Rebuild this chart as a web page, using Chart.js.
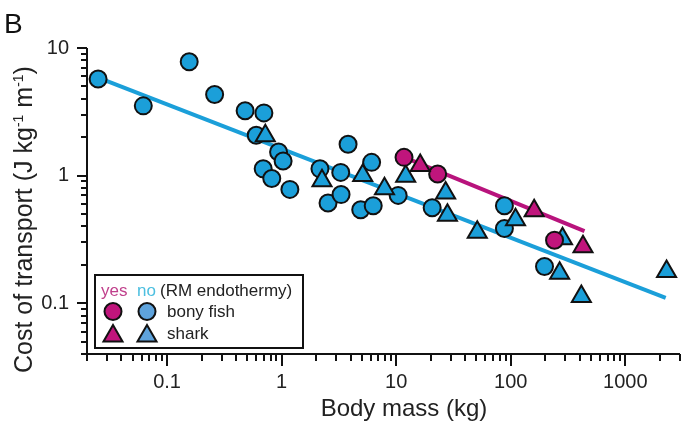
<!DOCTYPE html>
<html lang="en">
<head>
<meta charset="UTF-8">
<title>Cost of transport vs body mass</title>
<script src="https://cdn.jsdelivr.net/npm/chart.js"></script>
<style>
    body { margin: 0; background: #fff; }
    #wrap { position: relative; width: 687px; height: 428px; }
</style>
</head>
<body>
<div id="wrap"><canvas id="cotChart"></canvas></div>
<script>
// bony fish, no RM endothermy
const fishNoMass = [0.025, 0.062, 0.156, 0.26, 0.48, 0.70, 0.60, 0.69, 0.82, 0.94, 1.03, 1.18,
                    2.16, 2.54, 3.3, 3.8, 3.28, 6.1, 4.9, 6.3, 10.4, 20.6, 88, 88, 197];
const fishNoCot = [5.71, 3.52, 7.81, 4.32, 3.22, 3.10, 2.07, 1.13, 0.95, 1.53, 1.30, 0.78,
                   1.13, 0.61, 0.71, 1.76, 1.06, 1.27, 0.54, 0.58, 0.70, 0.56, 0.58, 0.385, 0.194];
// sharks, no RM endothermy
const sharkNoMass = [0.72, 2.25, 5.1, 7.9, 12.1, 27, 28, 51, 110, 283, 267, 413, 2290];
const sharkNoCot = [2.05, 0.91, 1.0, 0.79, 0.99, 0.73, 0.49, 0.36, 0.45, 0.32, 0.172, 0.113, 0.177];
// RM endothermy
const fishYesMass = [11.7, 23.0, 241];
const fishYesCot = [1.39, 1.03, 0.312];
const sharkYesMass = [16.2, 160, 427];
const sharkYesCot = [1.20, 0.531, 0.277];
// fitted lines
const fitNoMass = [0.025, 2250];
const fitNoCot = [5.87, 0.110];
const fitYesMass = [11.5, 440];
const fitYesCot = [1.40, 0.367];

const xTicks = [0.02, 0.03, 0.04, 0.05, 0.06, 0.07, 0.08, 0.09, 0.1, 0.2, 0.3, 0.4, 0.5, 0.6, 0.7, 0.8, 0.9,
                1, 2, 3, 4, 5, 6, 7, 8, 9, 10, 20, 30, 40, 50, 60, 70, 80, 90, 100, 200, 300, 400, 500, 600, 700, 800, 900,
                1000, 2000, 3000];
const xLabels = [0.1, 1, 10, 100, 1000];
const yTicks = [0.04, 0.05, 0.06, 0.07, 0.08, 0.09, 0.1, 0.2, 0.3, 0.4, 0.5, 0.6, 0.7, 0.8, 0.9,
                1, 2, 3, 4, 5, 6, 7, 8, 9, 10];
const yLabels = [0.1, 1, 10];

const BLUE = '#1b9fd9';
const MAGENTA = '#c0157c';
const FONT = "'Liberation Sans', Arial, sans-serif";

function pts(xs, ys) {
    return xs.map((x, i) => ({ x: x, y: ys[i] }));
}

function markerSet(xs, ys, color, style, r, order) {
    return {
        type: 'scatter',
        data: pts(xs, ys),
        pointStyle: style,
        pointRadius: r,
        pointBackgroundColor: color,
        pointBorderColor: '#111',
        pointBorderWidth: 2,
        order: order,
        clip: false
    };
}

function lineSet(xs, ys, color) {
    return {
        type: 'line',
        data: pts(xs, ys),
        borderColor: color,
        borderWidth: 4,
        pointRadius: 0,
        fill: false,
        order: 10
    };
}

// axis lines, tick marks, titles and the legend box
const decorations = {
    id: 'decorations',
    afterDraw(chart) {
        const ctx = chart.ctx;
        const a = chart.chartArea;
        const xs = chart.scales.x, ys = chart.scales.y;
        ctx.save();
        ctx.strokeStyle = '#111';
        ctx.lineWidth = 2;
        ctx.beginPath();
        ctx.moveTo(a.left, a.top);
        ctx.lineTo(a.left, a.bottom);
        ctx.lineTo(a.right, a.bottom);
        ctx.stroke();
        xTicks.forEach(v => {
            const px = Math.round(xs.getPixelForValue(v));
            const len = xLabels.includes(v) ? 12 : 7;
            ctx.beginPath();
            ctx.moveTo(px, a.bottom);
            ctx.lineTo(px, a.bottom + len);
            ctx.stroke();
        });
        yTicks.forEach(v => {
            const py = Math.round(ys.getPixelForValue(v));
            const len = yLabels.includes(v) ? 10 : 6;
            ctx.beginPath();
            ctx.moveTo(a.left, py);
            ctx.lineTo(a.left - len, py);
            ctx.stroke();
        });

        // panel letter
        ctx.fillStyle = '#111';
        ctx.textBaseline = 'alphabetic';
        ctx.textAlign = 'left';
        ctx.font = '28px ' + FONT;
        ctx.fillText('B', 4, 33);

        // x title
        ctx.fillStyle = '#222';
        ctx.font = '24px ' + FONT;
        ctx.textAlign = 'center';
        ctx.fillText('Body mass (kg)', 404, 416);

        // y title with superscripts
        ctx.save();
        ctx.translate(32, 373);
        ctx.rotate(-Math.PI / 2);
        ctx.textAlign = 'left';
        const parts = [['Cost of transport (J kg', false], ['-1', true], [' m', false], ['-1', true], [')', false]];
        let cx = 0;
        parts.forEach(([t, sup]) => {
            ctx.font = (sup ? '14px ' : '25px ') + FONT;
            ctx.fillText(t, cx, sup ? -9 : 0);
            cx += ctx.measureText(t).width;
        });
        ctx.restore();

        // legend
        ctx.fillStyle = '#fff';
        ctx.fillRect(95, 275, 208, 73);
        ctx.strokeRect(95, 275, 208, 73);
        ctx.font = '17px ' + FONT;
        ctx.textAlign = 'left';
        ctx.textBaseline = 'middle';
        ctx.fillStyle = '#c0408c';
        ctx.fillText('yes', 101, 291);
        ctx.fillStyle = '#4cbfe0';
        ctx.fillText('no', 137, 291);
        ctx.fillStyle = '#222';
        ctx.fillText('(RM endothermy)', 160, 291);
        ctx.fillText('bony fish', 167, 312);
        ctx.fillText('shark', 167, 334);
        const legendMarks = [
            ['circle', MAGENTA, 113, 311.5, 8.5],
            ['circle', '#5ea3dc', 147, 311.5, 8.5],
            ['triangle', MAGENTA, 113, 336, 11],
            ['triangle', '#5ea3dc', 147, 336, 11]
        ];
        legendMarks.forEach(([style, color, x, y, r]) => {
            ctx.fillStyle = color;
            ctx.strokeStyle = '#111';
            ctx.lineWidth = 2;
            Chart.helpers.drawPoint(ctx, { pointStyle: style, radius: r, rotation: 0, borderWidth: 2 }, x, y);
        });
        ctx.restore();
    }
};

new Chart(document.getElementById('cotChart'), {
    data: {
        datasets: [
            lineSet(fitNoMass, fitNoCot, BLUE),
            lineSet(fitYesMass, fitYesCot, '#b8137c'),
            markerSet(fishNoMass, fishNoCot, BLUE, 'circle', 8.5, 4),
            markerSet(sharkNoMass, sharkNoCot, BLUE, 'triangle', 11, 3),
            markerSet(fishYesMass, fishYesCot, MAGENTA, 'circle', 8.5, 2),
            markerSet(sharkYesMass, sharkYesCot, MAGENTA, 'triangle', 11, 1)
        ]
    },
    options: {
        responsive: true,
        maintainAspectRatio: false,
        animation: false,
        // autoPadding would reserve room for the big markers on the right
        layout: { autoPadding: false, padding: { top: 48, right: 7, left: 0, bottom: 0 } },
        plugins: {
            legend: { display: false },
            tooltip: { enabled: false }
        },
        scales: {
            x: {
                type: 'logarithmic',
                min: 0.02,
                max: 3000,
                border: { display: false },
                grid: { display: false, drawTicks: false, tickLength: 0 },
                afterBuildTicks: (scale) => { scale.ticks = xTicks.map(v => ({ value: v })); },
                afterFit: (scale) => {
                    scale.height = 74;
                    scale.paddingLeft = 0;
                    scale.paddingRight = 0;
                },
                ticks: {
                    autoSkip: false,
                    maxRotation: 0,
                    padding: 16,
                    color: '#222',
                    font: { family: FONT, size: 20 },
                    callback: (v) => xLabels.includes(v) ? String(v) : ''
                }
            },
            y: {
                type: 'logarithmic',
                min: 0.04,
                max: 10,
                border: { display: false },
                grid: { display: false, drawTicks: false, tickLength: 0 },
                afterBuildTicks: (scale) => { scale.ticks = yTicks.map(v => ({ value: v })); },
                afterFit: (scale) => {
                    scale.width = 87;
                    scale.paddingTop = 0;
                    scale.paddingBottom = 0;
                },
                ticks: {
                    autoSkip: false,
                    padding: 18,
                    color: '#222',
                    font: { family: FONT, size: 20 },
                    callback: (v) => yLabels.includes(v) ? String(v) : ''
                }
            }
        }
    },
    plugins: [decorations]
});
</script>
</body>
</html>
